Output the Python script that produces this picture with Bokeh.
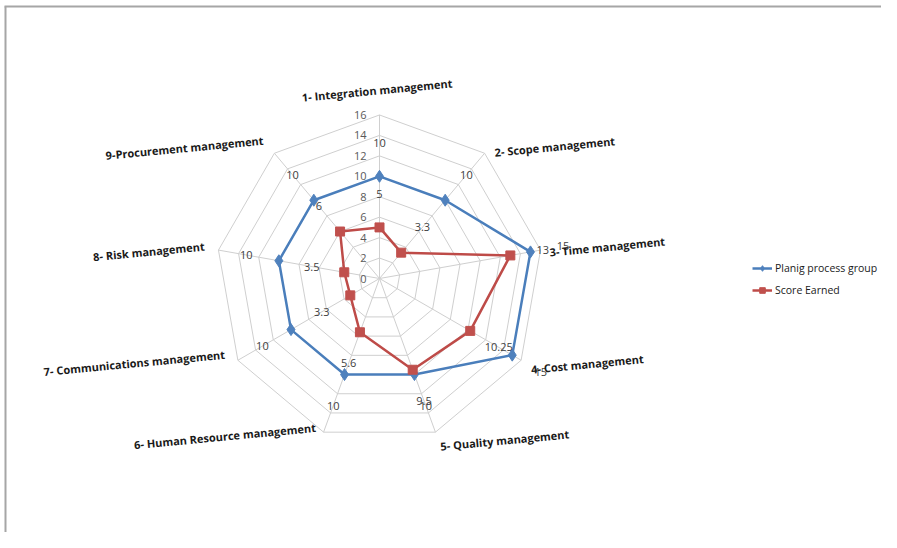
import math
from bokeh.plotting import figure
from bokeh.models import Range1d, Legend, LegendItem, ColumnDataSource
from bokeh.core.properties import value
from bokeh.embed import file_html
from bokeh.resources import INLINE

# ---------------- data ----------------
categories = [
    "1-  Integration management",
    "2-  Scope management",
    "3-  Time management",
    "4- Cost management",
    "5-  Quality management",
    "6-  Human Resource management",
    "7- Communications management",
    "8- Risk management",
    "9-Procurement management",
]
planning = [10, 10, 15, 15, 10, 10, 10, 10, 10]
earned = [5, 3.3, 13, 10.25, 9.5, 5.6, 3.3, 3.5, 6]
ticks = [0, 2, 4, 6, 8, 10, 12, 14, 16]
series_names = ["Planig process group", "Score Earned"]

# ---------------- layout / style ----------------
W, H = 881, 532
CX, CY = 379, 278          # screen position of radar centre
S = 10.22                  # pixels per unit
RMAX = ticks[-1]
FONT = value("Open Sans")
BLUE_L, BLUE_M = "#4A7EBB", "#4F81BD"
RED_L, RED_M = "#BE4B48", "#C0504D"
GRID = "#cfcfcf"

p = figure(width=W, height=H, output_backend="svg", toolbar_location=None,
           x_range=Range1d((0 - CX) / S, (W - CX) / S),
           y_range=Range1d((CY - H) / S, (CY - 0) / S),
           min_border=0)
p.axis.visible = False
p.grid.visible = False
p.outline_line_color = None
p.background_fill_color = "white"
p.border_fill_color = "white"

n = len(categories)
ang = [math.radians(90 - 360.0 * i / n) for i in range(n)]
dirs = [(math.cos(a), math.sin(a)) for a in ang]

# frame lines (top and left) of the original picture
xr0, xr1 = p.x_range.start, p.x_range.end
yr0, yr1 = p.y_range.start, p.y_range.end
p.segment(x0=[xr0 + 4 / S, xr0 + 5 / S], y0=[yr1 - 6 / S, yr1 - 6 / S],
          x1=[xr1, xr0 + 5 / S], y1=[yr1 - 6 / S, yr0],
          line_color="#a6a6a6", line_width=2)

# rings
ring_xs, ring_ys = [], []
for t in ticks[1:]:
    ring_xs.append([t * d[0] for d in dirs] + [t * dirs[0][0]])
    ring_ys.append([t * d[1] for d in dirs] + [t * dirs[0][1]])
p.multi_line(ring_xs, ring_ys, line_color=GRID, line_width=1)
# spokes
p.segment(x0=[0] * n, y0=[0] * n, x1=[RMAX * d[0] for d in dirs], y1=[RMAX * d[1] for d in dirs],
          line_color=GRID, line_width=1)

# tick labels
p.text(x=[-13 / S] * len(ticks), y=ticks, text=[str(t) for t in ticks],
       text_align="right", text_baseline="middle", text_font=FONT,
       text_font_size="11px", text_color="#595959")

# series
def series(vals, lc, mc, marker, msize):
    xs = [v * d[0] for v, d in zip(vals, dirs)]
    ys = [v * d[1] for v, d in zip(vals, dirs)]
    lr = p.line(xs + xs[:1], ys + ys[:1], line_color=lc, line_width=2.5)
    mr = p.scatter(xs, ys, marker=marker, size=msize, fill_color=mc, line_color=mc)
    off = 33 / S
    lx = [(v + off) * d[0] for v, d in zip(vals, dirs)]
    ly = [(v + off) * d[1] for v, d in zip(vals, dirs)]
    p.text(x=lx, y=ly, text=[f"{v:g}" for v in vals], text_align="center",
           text_baseline="middle", text_font=FONT, text_font_size="11px",
           text_color="#404040")
    return lr, mr

b_line, b_mark = series(planning, BLUE_L, BLUE_M, "diamond", 12)
r_line, r_mark = series(earned, RED_L, RED_M, "square", 9)

# category labels: nudges (px, y up) from the axis end, alignment
nudges = [(-1, 25), (10, 1), (9, -2), (10, -9), (5, -14), (-5, 5), (-13, 6), (-14, 4), (-11, 13)]
aligns = ["center", "left", "left", "left", "left", "right", "right", "right", "right"]
cx_l = [RMAX * d[0] + nx / S for d, (nx, ny) in zip(dirs, nudges)]
cy_l = [RMAX * d[1] + ny / S for d, (nx, ny) in zip(dirs, nudges)]
src = ColumnDataSource(dict(x=cx_l, y=cy_l, t=categories, a=aligns))
p.text(x="x", y="y", text="t", text_align="a", source=src, text_baseline="middle",
       angle=0.095, text_font=FONT, text_font_style="bold", text_font_size="11px",
       text_color="#1a1a1a")

legend = Legend(items=[LegendItem(label=series_names[0], renderers=[b_line, b_mark]),
                       LegendItem(label=series_names[1], renderers=[r_line, r_mark])],
                location=(752, 235), glyph_width=20, glyph_height=14, label_height=14,
                spacing=8, padding=0, margin=0, label_standoff=3,
                label_text_font="Open Sans", label_text_font_size="10.5px", label_text_color="#1a1a1a",
                border_line_alpha=0, background_fill_alpha=0)
p.add_layout(legend)

open("out.html", "w").write(file_html(p, INLINE))
